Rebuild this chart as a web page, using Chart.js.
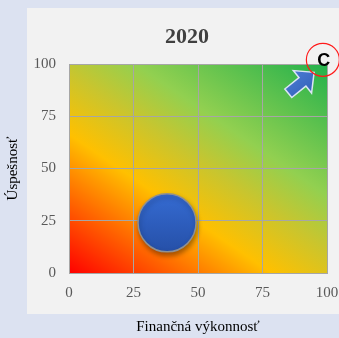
<!DOCTYPE html>
<html lang="sk">
<head>
    <meta charset="UTF-8">
    <title>2020</title>
    <script src="https://cdn.jsdelivr.net/npm/chart.js"></script>
    <style>
        html, body { margin: 0; padding: 0; background: #dce2f1; }
    </style>
</head>
<body>
    <canvas id="bubbleChart" width="339" height="338"></canvas>
    <script>
        // data
        const chartTitle = '2020';
        const xTitle = 'Finančná výkonnosť';
        const yTitle = 'Úspešnosť';
        const tickValues = [0, 25, 50, 75, 100];
        const bubbleX = [38];
        const bubbleY = [24];
        const bubbleR = [29];
        // marker in the top right corner (arrow + circled letter)
        const markerLabel = 'C';
        const arrowFrom = [85, 86];
        const arrowTo = [95, 96];
        const markerAt = [98.4, 102];

        const gridColor = '#a6a6a6';
        const serif = "'Liberation Serif', 'DejaVu Serif', serif";

        // background, panel, colour gradient of the plot area and the title
        const backdrop = {
            id: 'backdrop',
            beforeDraw(chart) {
                const { ctx, chartArea: a } = chart;
                ctx.save();
                ctx.fillStyle = '#dce2f1';
                ctx.fillRect(0, 0, chart.width, chart.height);
                ctx.fillStyle = '#f2f2f2';
                ctx.fillRect(a.left - 42, 8, chart.width - (a.left - 42), 306);

                let ux = 126, uy = -184;
                const n = Math.hypot(ux, uy);
                ux /= n; uy /= n;
                const len = a.width * ux + a.height * -uy;
                const g = ctx.createLinearGradient(a.left, a.bottom, a.left + ux * len, a.bottom + uy * len);
                g.addColorStop(0, '#ff0000');
                g.addColorStop(0.2, '#ff6a00');
                g.addColorStop(0.36, '#ffc000');
                g.addColorStop(0.52, '#c9c52e');
                g.addColorStop(0.66, '#92d050');
                g.addColorStop(1, '#22b14c');
                ctx.fillStyle = g;
                ctx.fillRect(a.left, a.top, a.width, a.height);

                ctx.fillStyle = '#404040';
                ctx.font = 'bold 22px ' + serif;
                ctx.textAlign = 'center';
                ctx.textBaseline = 'middle';
                ctx.fillText(chartTitle, 187, 37);
                ctx.restore();
            }
        };

        const bubbleShadow = {
            id: 'bubbleShadow',
            beforeDatasetDraw(chart) {
                const ctx = chart.ctx;
                ctx.save();
                ctx.shadowColor = 'rgba(0, 0, 0, 0.35)';
                ctx.shadowBlur = 5;
                ctx.shadowOffsetX = 1;
                ctx.shadowOffsetY = 3;
            },
            afterDatasetDraw(chart) {
                chart.ctx.restore();
            }
        };

        const marker = {
            id: 'marker',
            afterDatasetsDraw(chart) {
                const { ctx, scales: { x, y } } = chart;
                const x0 = x.getPixelForValue(arrowFrom[0]), y0 = y.getPixelForValue(arrowFrom[1]);
                const x1 = x.getPixelForValue(arrowTo[0]), y1 = y.getPixelForValue(arrowTo[1]);
                const L = Math.hypot(x1 - x0, y1 - y0);
                const ang = Math.atan2(y1 - y0, x1 - x0);
                const shaft = 5.5, head = 14.5, headLen = 15;

                ctx.save();
                ctx.translate(x0, y0);
                ctx.rotate(ang);
                ctx.beginPath();
                ctx.moveTo(0, -shaft);
                ctx.lineTo(L - headLen, -shaft);
                ctx.lineTo(L - headLen, -head);
                ctx.lineTo(L, 0);
                ctx.lineTo(L - headLen, head);
                ctx.lineTo(L - headLen, shaft);
                ctx.lineTo(0, shaft);
                ctx.closePath();
                const ga = ctx.createLinearGradient(0, -head, 0, head);
                ga.addColorStop(0, '#4a7bd4');
                ga.addColorStop(1, '#3461b8');
                ctx.fillStyle = ga;
                ctx.fill();
                ctx.strokeStyle = '#dbe4f5';
                ctx.lineWidth = 1.5;
                ctx.stroke();
                ctx.restore();

                const cx = x.getPixelForValue(markerAt[0]), cy = y.getPixelForValue(markerAt[1]);
                ctx.save();
                ctx.beginPath();
                ctx.arc(cx, cy, 16.5, 0, Math.PI * 2);
                ctx.strokeStyle = '#ff1a1a';
                ctx.lineWidth = 1.2;
                ctx.stroke();
                ctx.fillStyle = '#000';
                ctx.font = "bold 18px 'Liberation Sans', Arial, sans-serif";
                ctx.textAlign = 'center';
                ctx.textBaseline = 'middle';
                ctx.fillText(markerLabel, cx + 1, cy + 1);
                ctx.restore();
            }
        };

        const ctx = document.getElementById('bubbleChart').getContext('2d');
        const bubbleChart = new Chart(ctx, {
            type: 'bubble',
            data: {
                datasets: [{
                    data: bubbleX.map((v, i) => ({ x: v, y: bubbleY[i], r: bubbleR[i] })),
                    backgroundColor: function (context) {
                        const chart = context.chart;
                        if (!chart.chartArea) return '#2f62c4';
                        const d = context.raw;
                        const cy = chart.scales.y.getPixelForValue(d.y);
                        const g = chart.ctx.createLinearGradient(0, cy - d.r, 0, cy + d.r);
                        g.addColorStop(0, '#356bd2');
                        g.addColorStop(1, '#2650a8');
                        return g;
                    },
                    borderColor: '#909090',
                    borderWidth: 1.5,
                    hoverBorderWidth: 1.5
                }]
            },
            options: {
                responsive: false,
                animation: false,
                layout: { autoPadding: false, padding: { top: 64, right: 12, left: 0, bottom: 0 } },
                plugins: {
                    legend: { display: false },
                    tooltip: { enabled: false },
                    title: { display: false }
                },
                scales: {
                    x: {
                        type: 'linear',
                        min: 0,
                        max: 100,
                        afterBuildTicks: s => { s.ticks = tickValues.map(v => ({ value: v })); },
                        afterFit: s => { s.height = 65; s.paddingLeft = 0; s.paddingRight = 0; },
                        grid: { color: gridColor, drawTicks: false },
                        border: { color: gridColor },
                        ticks: { padding: 11, color: '#595959', maxRotation: 0, font: { family: serif, size: 15 } },
                        title: { display: true, text: xTitle, color: '#000', font: { family: serif, size: 15 }, padding: { top: 0, bottom: 2 } }
                    },
                    y: {
                        type: 'linear',
                        min: 0,
                        max: 100,
                        afterBuildTicks: s => { s.ticks = tickValues.map(v => ({ value: v })); },
                        afterFit: s => { s.width = 69; s.paddingTop = 0; s.paddingBottom = 0; },
                        grid: { color: gridColor, drawTicks: false },
                        border: { color: gridColor },
                        ticks: { padding: 13, color: '#595959', font: { family: serif, size: 15 } },
                        title: { display: true, text: yTitle, color: '#000', font: { family: serif, size: 15 }, padding: { top: 4, bottom: 0 } }
                    }
                }
            },
            plugins: [backdrop, bubbleShadow, marker]
        });
    </script>
</body>
</html>
